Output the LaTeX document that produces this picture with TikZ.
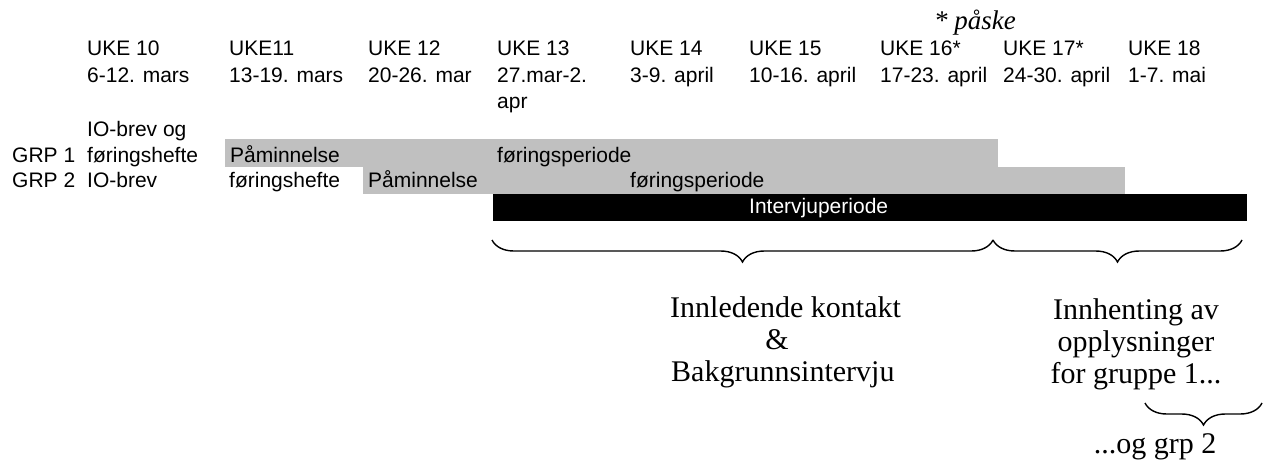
\documentclass[tikz,border=0pt]{standalone}
\usepackage{fontspec}
\setmainfont{Liberation Sans}
\newfontfamily\serifx{Liberation Serif}
\usetikzlibrary{decorations.pathreplacing}
\definecolor{bargrey}{RGB}{192,192,192}
\tikzset{
  lbl/.style={inner sep=0pt, anchor=base west, font=\fontsize{21}{26}\selectfont},
  inbar/.style={lbl},
  whitetxt/.style={lbl, text=white},
  sertxt/.style={inner sep=0pt, anchor=base, font=\serifx\fontsize{30}{32}\selectfont},
  greybar/.style={fill=bargrey, draw=none},
  blackbar/.style={fill=black, draw=none},
  curly/.style={decorate, decoration={brace, mirror, amplitude=22pt}, line width=1.4pt}
}
\begin{document}
\begin{tikzpicture}[x=1pt,y=-1pt]
\useasboundingbox (0,0) rectangle (1266,460);
% bars
\fill[greybar] (225,139) rectangle (998,167);
\fill[greybar] (363,167) rectangle (1125,194);
\fill[blackbar] (493,194) rectangle (1247,221);
% easter note
\node[inner sep=0pt, anchor=base west, font=\serifx\itshape\fontsize{27}{30}\selectfont] (paske) at (934,30) {* påske};
% week headers
\node[lbl] (u10) at (87,56) {UKE 10};
\node[lbl] (d10) at (87,82) {6-12. mars};
\node[lbl] (u11) at (229,56) {UKE11};
\node[lbl] (d11) at (229,82) {13-19. mars};
\node[lbl] (u12) at (368,56) {UKE 12};
\node[lbl] (d12) at (368,82) {20-26. mar};
\node[lbl] (u13) at (497,56) {UKE 13};
\node[lbl] (d13) at (497,82) {27.mar-2.};
\node[lbl] (d13b) at (497,108) {apr};
\node[lbl] (u14) at (630,56) {UKE 14};
\node[lbl] (d14) at (630,82) {3-9. april};
\node[lbl] (u15) at (749,56) {UKE 15};
\node[lbl] (d15) at (749,82) {10-16. april};
\node[lbl] (u16) at (880,56) {UKE 16*};
\node[lbl] (d16) at (880,82) {17-23. april};
\node[lbl] (u17) at (1003,56) {UKE 17*};
\node[lbl] (d17) at (1003,82) {24-30. april};
\node[lbl] (u18) at (1128,56) {UKE 18};
\node[lbl] (d18) at (1128,82) {1-7. mai};
% group rows
\node[lbl] (io1) at (87,136) {IO-brev og};
\node[lbl] (g1) at (12,162) {GRP 1};
\node[lbl] (fh1) at (87,162) {føringshefte};
\node[inbar] (pm1) at (230,162) {Påminnelse};
\node[inbar] (fp1) at (497,162) {føringsperiode};
\node[lbl] (g2) at (12,187) {GRP 2};
\node[lbl] (io2) at (87,187) {IO-brev};
\node[lbl] (fh2) at (229,187) {føringshefte};
\node[inbar] (pm2) at (368,187) {Påminnelse};
\node[inbar] (fp2) at (630,187) {føringsperiode};
\node[whitetxt] (iv) at (749,213) {Intervjuperiode};
% braces
\coordinate (b1a) at (492,240);
\coordinate (b1b) at (993,240);
\coordinate (b2a) at (993,240);
\coordinate (b2b) at (1242,240);
\coordinate (b3a) at (1145,403);
\coordinate (b3b) at (1262,403);
\draw[curly] (b1a) -- (b1b);
\draw[curly] (b2a) -- (b2b);
\draw[curly] (b3a) -- (b3b);
% explanations
\node[sertxt, anchor=base west] (k1) at (670,317) {Innledende kontakt};
\node[sertxt] (k2) at (777,349) {\&};
\node[sertxt, anchor=base west] (k3) at (671,381) {Bakgrunnsintervju};
\node[sertxt] (o1) at (1136,319) {Innhenting av};
\node[sertxt] (o2) at (1136,351) {opplysninger};
\node[sertxt] (o3) at (1136,383) {for gruppe 1...};
\node[sertxt] (o4) at (1155,453) {...og grp 2};
\end{tikzpicture}
\end{document}
